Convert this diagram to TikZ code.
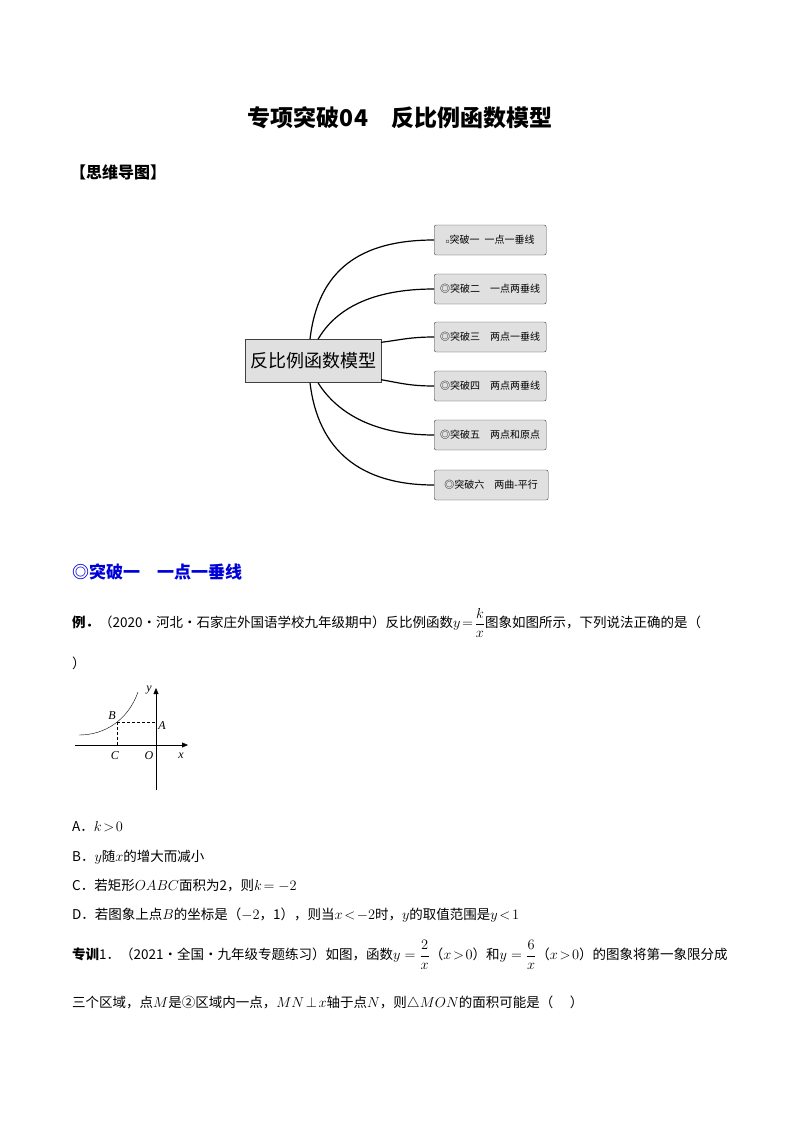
\documentclass[tikz,border=0pt]{standalone}
\usepackage{fontspec}
\usepackage{amsmath}
\setmainfont{Liberation Serif}
\newfontfamily\cjk{Noto Sans CJK SC}
\newfontfamily\dejavu{DejaVu Sans}
\usetikzlibrary{arrows.meta,calc}
\begin{document}
\begin{tikzpicture}[x=1pt,y=-1pt,
  txt/.style={anchor=west,inner sep=0pt,font=\fontsize{13.5}{16}\selectfont\cjk},
  br/.style={draw=black!75,fill=black!12,rounded corners=2pt,minimum height=30,minimum width=112,anchor=west,font=\fontsize{10}{11}\selectfont\cjk,inner sep=2pt,align=left},
  link/.style={line width=1.2pt}]
\useasboundingbox (0,0) rectangle (800,1132);
\node[inner sep=0pt,font=\fontsize{23}{26}\selectfont\cjk\bfseries] (title) at (400,118) {专项突破04\quad 反比例函数模型};
\node[txt,font=\fontsize{16}{19}\selectfont\cjk\bfseries] (mm) at (70,172) {【思维导图】};
% mind map
\node[draw=black!75,fill=black!12,minimum width=136,minimum height=43,font=\fontsize{18}{20}\selectfont\cjk,inner sep=2pt] (c) at (313,361) {反比例函数模型};
\node[br] (b1) at (434,240) {{\dejavu\fontsize{6}{6}\selectfont ▫}突破一\enspace 一点一垂线};
\node[br] (b2) at (434,289) {◎突破二\quad 一点两垂线};
\node[br] (b3) at (434,337) {◎突破三\quad 两点一垂线};
\node[br] (b4) at (434,386) {◎突破四\quad 两点两垂线};
\node[br] (b5) at (434,435) {◎突破五\quad 两点和原点};
\node[br,minimum width=114] (b6) at (434,485) {◎突破六\quad 两曲-平行};
\draw[link] ($(c.north)+(-3,0)$) .. controls (318,270) and (360,240) .. (b1.west);
\draw[link] ($(c.north)+(5,0)$) .. controls (335,310) and (370,289) .. (b2.west);
\draw[link] ($(c.north east)+(0,3)$) .. controls (400,340) and (410,337) .. (b3.west);
\draw[link] ($(c.south east)+(0,-3)$) .. controls (400,383) and (410,386) .. (b4.west);
\draw[link] ($(c.south)+(5,0)$) .. controls (335,410) and (370,435) .. (b5.west);
\draw[link] ($(c.south)+(-3,0)$) .. controls (318,450) and (360,485) .. (b6.west);
% section
\node[txt,font=\fontsize{17}{20}\selectfont\cjk\bfseries,text=blue!85!black] (sec) at (72,572) {◎突破一\quad 一点一垂线};
\node[txt] (ex) at (72,623) {\textbf{例．}（2020·河北·石家庄外国语学校九年级期中）反比例函数$y\!=\!\dfrac{k}{x}$图象如图所示，下列说法正确的是（};
\node[txt] (ex2) at (72,663) {）};
% graph
\coordinate (O) at (156,745);
\coordinate (Bp) at (117,722);
\coordinate (Ap) at (156,722);
\coordinate (Cp) at (117,745);
\draw[-{Triangle[length=6,width=5]}] (75,745) -- (188,745);
\draw[-{Triangle[length=6,width=5]}] (156,790) -- (156,688);
\draw (79,735) .. controls (105,735) and (128,720) .. (138,692);
\draw[densely dashed] (Bp) -- (Ap);
\draw[densely dashed] (Bp) -- (Cp);
\node[font=\itshape\fontsize{12}{12}\selectfont] (lB) at (112,716) {B};
\node[font=\itshape\fontsize{12}{12}\selectfont] (lA) at (162,726) {A};
\node[font=\itshape\fontsize{12}{12}\selectfont] (lC) at (115,756) {C};
\node[font=\itshape\fontsize{12}{12}\selectfont] (lO) at (149,756) {O};
\node[font=\itshape\fontsize{12}{12}\selectfont] (lx) at (181,756) {x};
\node[font=\itshape\fontsize{12}{12}\selectfont] (ly) at (149,690) {y};
% options
\node[txt] (oA) at (72,827) {A．$k\!>\!0$};
\node[txt] (oB) at (72,857) {B．$y$随$x$的增大而减小};
\node[txt] (oC) at (72,886) {C．若矩形$OABC$面积为2，则$k\!=-2$};
\node[txt] (oD) at (72,915) {D．若图象上点$B$的坐标是（$-2$，1），则当$x\!<\!-2$时，$y$的取值范围是$y\!<\!1$};
\node[txt] (t1) at (72,955) {\textbf{专训}1．（2021·全国·九年级专题练习）如图，函数$y=\dfrac{2}{x}$（$x\!>\!0$）和$y=\dfrac{6}{x}$（$x\!>\!0$）的图象将第一象限分成};
\node[txt] (t2) at (72,1003) {三个区域，点$M$是②区域内一点，$MN\!\perp\! x$轴于点$N$，则$\triangle MON$的面积可能是（\quad\ ）};
\end{tikzpicture}
\end{document}
